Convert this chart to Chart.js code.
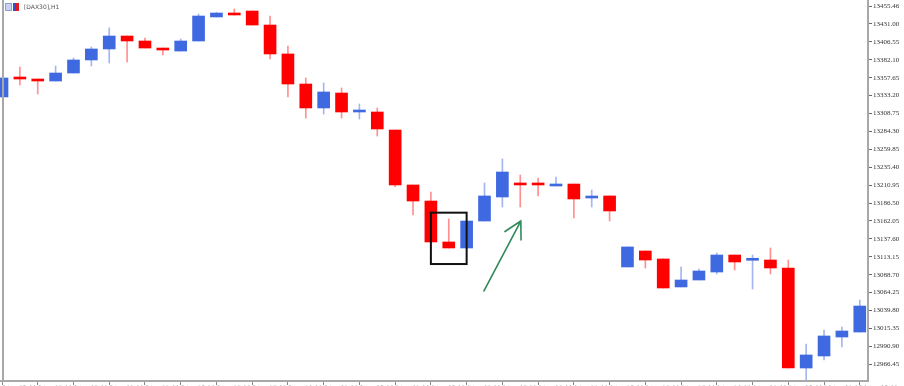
<!DOCTYPE html>
<html>
<head>
<meta charset="utf-8">
<script src="https://cdn.jsdelivr.net/npm/chart.js@4.4.1/dist/chart.umd.min.js"></script>
<style>
    html, body { margin: 0; padding: 0; background: #fff; }
    #wrap { width: 904px; height: 386px; position: relative; }
</style>
</head>
<body>
<div id="wrap"><canvas id="chartDax"></canvas></div>
<script>
/* ═══════════════════════════════════════════
   DAX30 H1 DATA
═══════════════════════════════════════════ */

const symbolLabel = '[DAX30],H1';

const times = [
    '8 Jun 03:00', '8 Jun 04:00', '8 Jun 05:00', '8 Jun 06:00', '8 Jun 07:00', '8 Jun 08:00', '8 Jun 09:00',
    '8 Jun 10:00', '8 Jun 11:00', '8 Jun 12:00', '8 Jun 13:00', '8 Jun 14:00', '8 Jun 15:00', '8 Jun 16:00',
    '8 Jun 17:00', '8 Jun 18:00', '8 Jun 19:00', '8 Jun 20:00', '8 Jun 21:00', '8 Jun 22:00', '8 Jun 23:00',
    '9 Jun 00:00', '9 Jun 01:00', '9 Jun 02:00', '9 Jun 03:00', '9 Jun 04:00', '9 Jun 05:00', '9 Jun 06:00',
    '9 Jun 07:00', '9 Jun 08:00', '9 Jun 09:00', '9 Jun 10:00', '9 Jun 11:00', '9 Jun 12:00', '9 Jun 13:00',
    '9 Jun 14:00', '9 Jun 15:00', '9 Jun 16:00', '9 Jun 17:00', '9 Jun 18:00', '9 Jun 19:00', '9 Jun 20:00',
    '9 Jun 21:00', '9 Jun 22:00', '9 Jun 23:00', '10 Jun 00:00', '10 Jun 01:00', '10 Jun 02:00', '10 Jun 03:00'
];

const opens = [
    13331.3, 13356.5, 13355.8, 13353.1, 13364.0, 13381.8, 13396.8, 13414.5, 13407.7, 13398.1,
    13394.0, 13407.7, 13440.5, 13445.9, 13448.6, 13429.5, 13390.0, 13349.0, 13316.3, 13336.7,
    13310.8, 13310.8, 13286.2, 13211.2, 13189.3, 13133.4, 13125.2, 13162.0, 13194.8, 13211.6,
    13211.6, 13209.8, 13212.5, 13193.4, 13196.2, 13099.3, 13121.1, 13110.2, 13072.0, 13081.5,
    13092.4, 13115.6, 13108.4, 13108.8, 13097.9, 12961.4, 12977.8, 13003.7, 13010.5
];

const highs = [
    13357.2, 13372.2, 13355.8, 13373.6, 13384.5, 13399.5, 13425.6, 13414.5, 13411.8, 13398.1,
    13410.4, 13444.5, 13446.5, 13451.4, 13448.6, 13441.8, 13400.9, 13357.2, 13350.4, 13343.6,
    13321.7, 13316.3, 13286.2, 13211.2, 13201.6, 13164.8, 13162.0, 13213.9, 13246.7, 13224.8,
    13220.7, 13222.1, 13212.5, 13204.3, 13196.2, 13126.6, 13121.1, 13110.2, 13099.3, 13096.5,
    13118.4, 13115.6, 13115.6, 13125.2, 13108.8, 12994.2, 13013.3, 13017.4, 13054.2
];

const lows = [
    13331.3, 13347.6, 13335.4, 13353.1, 13364.0, 13373.6, 13377.7, 13379.0, 13398.1, 13388.6,
    13394.0, 13407.7, 13440.5, 13443.2, 13429.5, 13383.1, 13331.3, 13302.6, 13308.1, 13302.6,
    13301.2, 13278.0, 13209.0, 13170.2, 13133.4, 13125.2, 13125.2, 13162.0, 13181.1, 13181.1,
    13196.2, 13209.8, 13166.1, 13181.1, 13162.0, 13099.3, 13097.9, 13070.6, 13072.0, 13081.5,
    13089.7, 13095.2, 13069.2, 13089.7, 12961.4, 12945.0, 12972.3, 12990.1, 13010.5
];

const closes = [
    13357.2, 13355.8, 13353.1, 13364.0, 13381.8, 13396.8, 13414.5, 13407.7, 13398.1, 13395.4,
    13407.7, 13441.8, 13445.9, 13443.2, 13429.5, 13390.0, 13349.0, 13316.3, 13338.1, 13310.8,
    13311.3, 13287.6, 13211.2, 13189.3, 13133.4, 13125.2, 13162.0, 13196.2, 13228.9, 13211.2,
    13211.2, 13212.5, 13192.1, 13193.8, 13175.7, 13126.6, 13108.8, 13070.6, 13081.5, 13093.8,
    13115.6, 13106.1, 13108.8, 13097.9, 12961.4, 12979.2, 13005.1, 13011.9, 13046.0
];

const yTicks = [
    13455.46, 13431.00, 13406.55, 13382.10, 13357.65, 13333.20, 13308.75, 13284.30, 13259.85, 13235.40,
    13210.95, 13186.50, 13162.05, 13137.60, 13113.15, 13088.70, 13064.25, 13039.80, 13015.35, 12990.90,
    12966.45
];

// Annotation anchors (candle index / price)
const boxFrom = { x: 24, y: 13173.4 };
const boxTo = { x: 26, y: 13103.3 };
const arrowFrom = { x: 26.97, y: 13066.5 };
const arrowTo = { x: 29.03, y: 13162.0 };

/* ═══════════════════════════════════════════
   STYLE
═══════════════════════════════════════════ */

const UP_BODY = '#3f69e0';
const DOWN_BODY = '#ff0000';
const UP_WICK = '#a3b6ef';
const DOWN_WICK = '#ff9090';
const AXIS_GREY = '#a8a8a8';

const isUp = i => closes[i] >= opens[i];

/**
 * Extra drawing: window border, header, box and arrow
 */
const decorPlugin = {
    id: 'decor',
    afterDraw(chart) {
        const { ctx, chartArea, scales } = chart;
        const xs = scales.x, ys = scales.y;
        ctx.save();

        // left window border
        ctx.fillStyle = AXIS_GREY;
        ctx.fillRect(2, 0, 2, chartArea.bottom);

        // header icon + symbol
        ctx.fillStyle = '#c9d2f2';
        ctx.fillRect(5, 3, 7, 8);
        ctx.strokeStyle = '#8fa0d8';
        ctx.lineWidth = 1;
        ctx.strokeRect(5.5, 3.5, 6, 7);
        ctx.fillStyle = '#3050d0';
        ctx.fillRect(13, 3, 3, 8);
        ctx.fillStyle = '#e02020';
        ctx.fillRect(16, 3, 3, 8);
        ctx.fillStyle = '#555';
        ctx.font = '6px "DejaVu Sans", sans-serif';
        ctx.textBaseline = 'middle';
        ctx.fillText(symbolLabel, 24, 7.5);

        // black box around the pattern
        const bx1 = xs.getPixelForValue(boxFrom.x), by1 = ys.getPixelForValue(boxFrom.y);
        const bx2 = xs.getPixelForValue(boxTo.x), by2 = ys.getPixelForValue(boxTo.y);
        ctx.strokeStyle = '#111';
        ctx.lineWidth = 2;
        ctx.strokeRect(bx1, by1, bx2 - bx1, by2 - by1);

        // green arrow
        const ax1 = xs.getPixelForValue(arrowFrom.x), ay1 = ys.getPixelForValue(arrowFrom.y);
        const ax2 = xs.getPixelForValue(arrowTo.x), ay2 = ys.getPixelForValue(arrowTo.y);
        const back = Math.atan2(ay1 - ay2, ax1 - ax2);
        const head = 19, spread = 0.5;
        ctx.strokeStyle = '#2f8a58';
        ctx.lineWidth = 1.6;
        ctx.lineCap = 'round';
        ctx.beginPath();
        ctx.moveTo(ax1, ay1);
        ctx.lineTo(ax2, ay2);
        ctx.moveTo(ax2 + head * Math.cos(back - spread), ay2 + head * Math.sin(back - spread));
        ctx.lineTo(ax2, ay2);
        ctx.lineTo(ax2 + head * Math.cos(back + spread), ay2 + head * Math.sin(back + spread));
        ctx.stroke();

        ctx.restore();
    }
};

/* ═══════════════════════════════════════════
   CHART
═══════════════════════════════════════════ */

function initCandleChart() {
    const ctx = document.getElementById('chartDax');
    if (!ctx || !window.Chart) return;

    const wickData = times.map((t, i) => ({ x: i, y: [lows[i], highs[i]] }));
    const bodyData = times.map((t, i) => ({ x: i, y: [opens[i], closes[i]] }));

    new Chart(ctx, {
        type: 'bar',
        data: {
            datasets: [
                {
                    label: 'wick',
                    data: wickData,
                    backgroundColor: times.map((t, i) => isUp(i) ? UP_WICK : DOWN_WICK),
                    barThickness: 1,
                    grouped: false,
                    order: 2
                },
                {
                    label: 'body',
                    data: bodyData,
                    backgroundColor: times.map((t, i) => isUp(i) ? UP_BODY : DOWN_BODY),
                    barThickness: 12,
                    minBarLength: 2,
                    grouped: false,
                    order: 1
                }
            ]
        },
        options: {
            responsive: true,
            maintainAspectRatio: false,
            animation: false,
            layout: { padding: 0 },
            plugins: {
                legend: { display: false },
                tooltip: { enabled: false }
            },
            scales: {
                x: {
                    type: 'linear',
                    offset: false,
                    min: -0.112,
                    max: 48.46,
                    grid: { drawOnChartArea: false, tickLength: 4, color: '#888', offset: false },
                    border: { display: true, color: AXIS_GREY, width: 2 },
                    ticks: {
                        autoSkip: false,
                        maxRotation: 0,
                        align: 'start',
                        padding: 0,
                        color: '#888',
                        font: { family: 'DejaVu Sans', size: 6 },
                        callback: v => times[v] || ''
                    },
                    afterBuildTicks: s => {
                        s.ticks = times.map((t, i) => i).filter(i => i % 2 === 0).map(i => ({ value: i }));
                    },
                    afterFit: s => {
                        s.height = 5;
                        s.paddingLeft = 0;
                        s.paddingRight = 0;
                    }
                },
                y: {
                    type: 'linear',
                    position: 'right',
                    min: 12943.66,
                    max: 13463.65,
                    grid: { drawOnChartArea: false, tickLength: 4, color: '#666' },
                    border: { display: true, color: AXIS_GREY, width: 2 },
                    ticks: {
                        autoSkip: false,
                        padding: 1,
                        color: '#333',
                        font: { family: 'Liberation Serif', size: 7 },
                        callback: v => Number(v).toFixed(2)
                    },
                    afterBuildTicks: s => {
                        s.ticks = yTicks.map(v => ({ value: v }));
                    },
                    afterFit: s => {
                        s.width = 36;
                        s.paddingTop = 0;
                        s.paddingBottom = 0;
                    }
                }
            }
        },
        plugins: [decorPlugin]
    });
}

initCandleChart();
</script>
</body>
</html>
